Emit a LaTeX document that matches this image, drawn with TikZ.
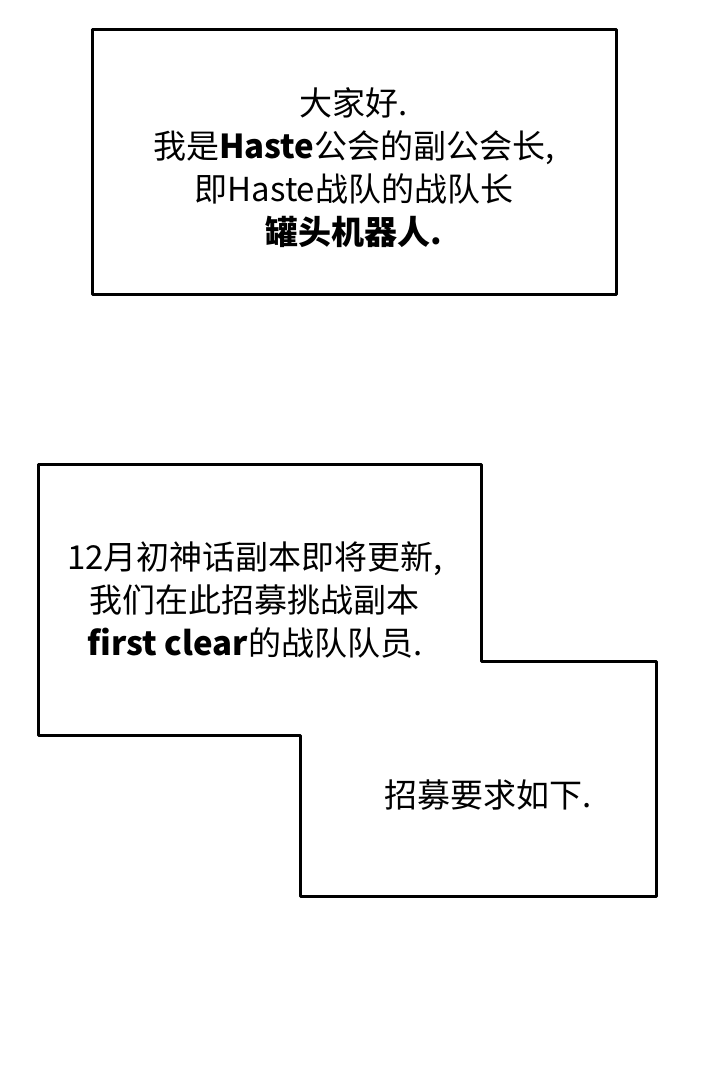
\documentclass[tikz,border=0pt]{standalone}
\usepackage{fontspec}
\setmainfont{Noto Sans CJK SC}
\begin{document}
\begin{tikzpicture}[x=1pt,y=1pt,
  panel/.style={draw=black,line width=3pt,line join=round,fill=white},
  caption/.style={align=center,inner sep=0pt,font=\fontsize{33}{43}\selectfont}]
\useasboundingbox[fill=white] (0,0) rectangle (720,1080);
\draw[panel] (92,1050) rectangle (616,785);
\draw[panel] (38,615) -- (481,615) -- (481,418) -- (656,418) -- (656,183) -- (300,183) -- (300,344) -- (38,344) -- cycle;
\node[caption] (intro) at (354,912) {大家好.\\我是\textbf{Haste}公会的副公会长,\\即Haste战队的战队长\\\textbf{罐头机器人.}};
\node[caption] (recruit) at (255,480) {12月初神话副本即将更新,\\我们在此招募挑战副本\\\textbf{first clear}的战队队员.};
\node[caption] (req) at (488,285) {招募要求如下.};
\end{tikzpicture}
\end{document}
